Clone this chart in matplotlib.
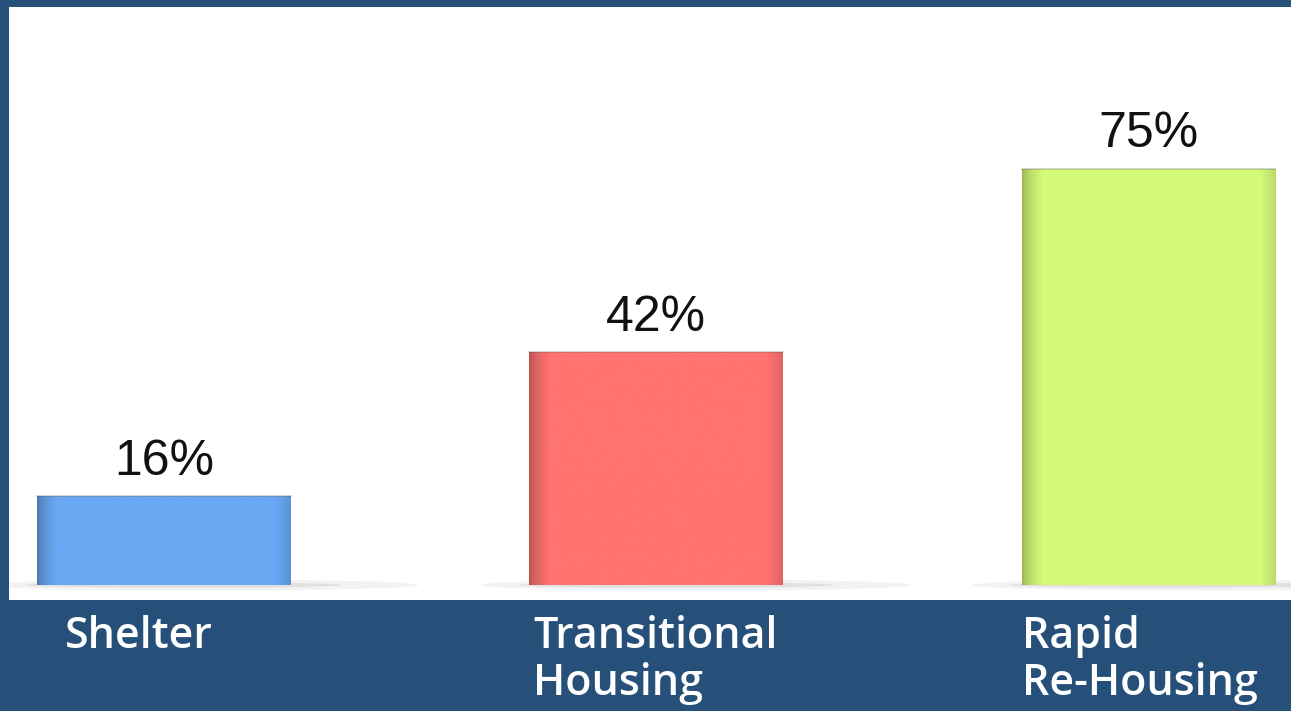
import numpy as np
import matplotlib.pyplot as plt
from matplotlib.patches import Ellipse
from matplotlib.colors import to_rgb

categories = ["Shelter", "Transitional\nHousing", "Rapid\nRe-Housing"]
values = [16, 42, 75]
value_labels = ["16%", "42%", "75%"]
bar_colors = ["#6aa8f4", "#ff7370", "#d5fa78"]

BG = "#26507a"


def shaded(color, n=200):
    # horizontal shading: darker left edge, light middle, soft right edge
    c = np.array(to_rgb(color))
    x = np.linspace(0, 1, n)
    f = np.ones(n)
    f = np.where(x < 0.08, 0.72 + 0.28 * (x / 0.08) ** 0.6, f)
    f = np.where(x > 0.94, 1 - 0.12 * ((x - 0.94) / 0.06), f)
    img = np.clip(c[None, :] * f[:, None], 0, 1)
    return img[None, :, :]


def main():
    fig = plt.figure(figsize=(12.91, 7.11), dpi=100, facecolor=BG)
    ax = fig.add_axes([9 / 1291, (711 - 600) / 711, 1 - 9 / 1291, 593 / 711])
    ax.set_facecolor("white")
    ax.axis("off")
    ax.add_patch(plt.Rectangle((0, 0), 1, 1, transform=ax.transAxes,
                               color="white", zorder=0))

    xlim = (-0.315, 2.29)
    x = np.arange(len(values))
    w = 0.515
    bars = ax.bar(x, values, width=w, color=bar_colors, zorder=2)

    for xi, b, col, v, lab in zip(x, bars, bar_colors, values, value_labels):
        # shadow on the floor
        ax.add_patch(Ellipse((xi + 0.08, 0), w * 1.7, 2.0, color="#000000",
                             alpha=0.05, lw=0, zorder=1))
        ax.add_patch(Ellipse((xi + 0.04, 0), w * 1.25, 1.0, color="#000000",
                             alpha=0.07, lw=0, zorder=1))
        im = ax.imshow(shaded(col), extent=[xi - w / 2, xi + w / 2, 0, v],
                       aspect="auto", zorder=3, interpolation="bilinear")
        im.set_clip_path(b)
        ax.plot([xi - w / 2, xi + w / 2], [v, v], color="#555555", lw=1.2,
                alpha=0.3, zorder=4)
        ax.text(xi, v + 2.0, lab, ha="center", va="bottom",
                fontsize=36, family="Liberation Sans", color="#111111",
                zorder=5)

    ax.set_xlim(*xlim)
    ax.set_ylim(-2.7, 104.1)

    # category labels under the panel
    label_pos = [(65, 637), (533, 660), (1022, 660)]
    for (px, py), cat in zip(label_pos, categories):
        fig.text(px / 1291, 1 - py / 711, cat, ha="left", va="center",
                 fontsize=31, family="Open Sans", weight="semibold",
                 color="white", linespacing=1.15)

    fig.savefig("out.png", dpi=100, facecolor=BG)


if __name__ == '__main__':
    main()
